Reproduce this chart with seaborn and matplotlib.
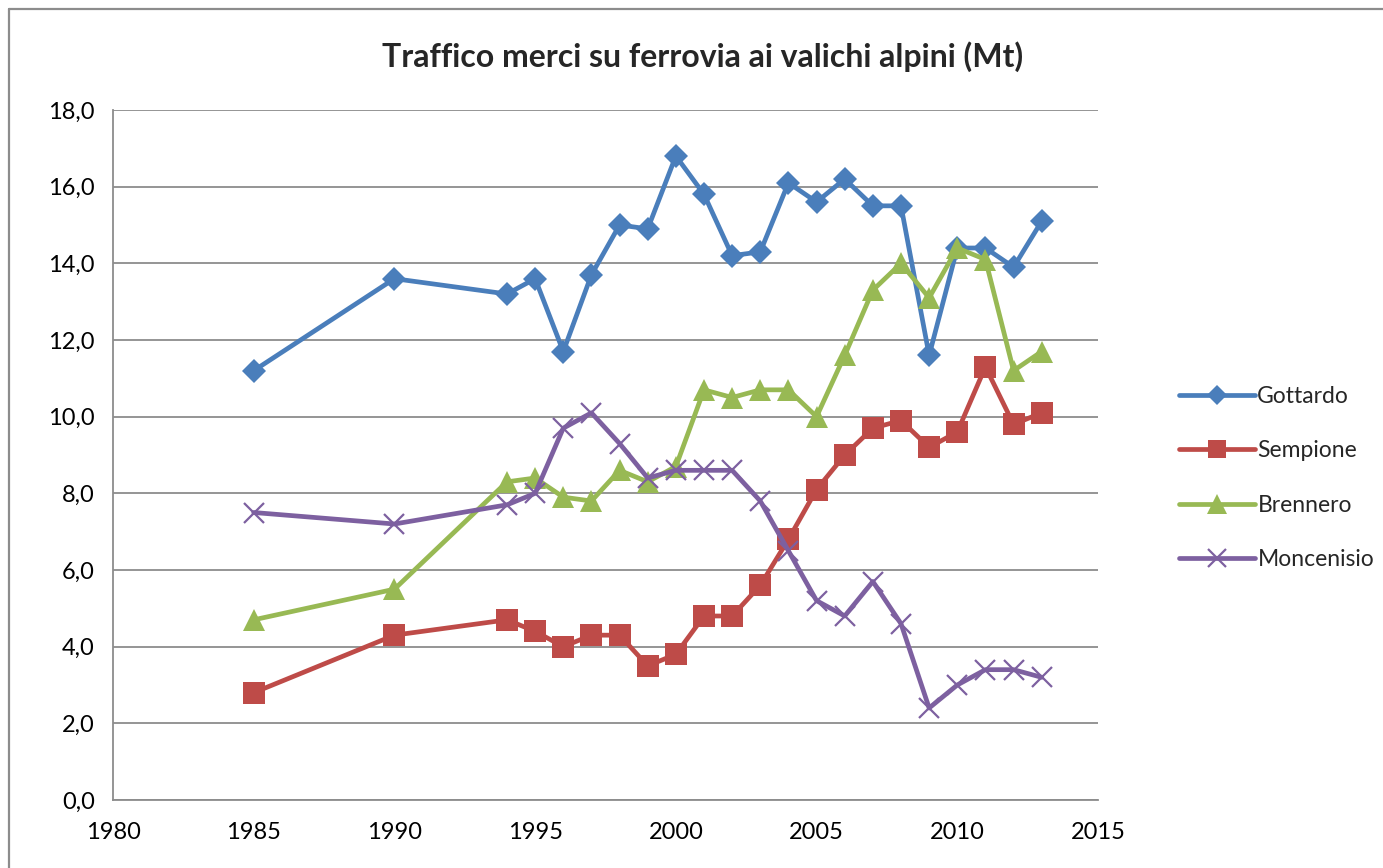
import matplotlib
matplotlib.use("Agg")
import matplotlib.pyplot as plt
import matplotlib.lines as mlines
import seaborn as sns
import pandas as pd
from matplotlib.ticker import FuncFormatter

# -----------------------------
# Data (Mt)
# -----------------------------
years = [1985, 1990, 1994, 1995, 1996, 1997, 1998, 1999, 2000, 2001, 2002,
         2003, 2004, 2005, 2006, 2007, 2008, 2009, 2010, 2011, 2012, 2013]

gottardo = [11.2, 13.6, 13.2, 13.6, 11.7, 13.7, 15.0, 14.9, 16.8, 15.8, 14.2,
            14.3, 16.1, 15.6, 16.2, 15.5, 15.5, 11.6, 14.4, 14.4, 13.9, 15.1]
sempione = [2.8, 4.3, 4.7, 4.4, 4.0, 4.3, 4.3, 3.5, 3.8, 4.8, 4.8,
            5.6, 6.8, 8.1, 9.0, 9.7, 9.9, 9.2, 9.6, 11.3, 9.8, 10.1]
brennero = [4.7, 5.5, 8.3, 8.4, 7.9, 7.8, 8.6, 8.3, 8.7, 10.7, 10.5,
            10.7, 10.7, 10.0, 11.6, 13.3, 14.0, 13.1, 14.4, 14.1, 11.2, 11.7]
moncenisio = [7.5, 7.2, 7.7, 8.0, 9.7, 10.1, 9.3, 8.4, 8.6, 8.6, 8.6,
              7.8, 6.5, 5.2, 4.8, 5.7, 4.6, 2.4, 3.0, 3.4, 3.4, 3.2]

series_names = ["Gottardo", "Sempione", "Brennero", "Moncenisio"]
title = "Traffico merci su ferrovia ai valichi alpini (Mt)"

df = pd.DataFrame({
    "anno": years * 4,
    "Mt": gottardo + sempione + brennero + moncenisio,
    "valico": [n for n in series_names for _ in years],
})

styles = {
    "Gottardo":   dict(color="#4A7EBB", marker="D", ms=12.5, mew=0),
    "Sempione":   dict(color="#BE4B48", marker="s", ms=15.5, mew=0),
    "Brennero":   dict(color="#98B954", marker="^", ms=16.5, mew=0),
    "Moncenisio": dict(color="#7D60A0", marker="x", ms=15, mew=1.6),
}

sns.set_style("white")
plt.rcParams["font.family"] = ["Lato", "DejaVu Sans"]

fig = plt.figure(figsize=(13.83, 8.68), dpi=100)
ax = fig.add_axes([113 / 1383, 68 / 868, 985 / 1383, 690 / 868])

for name in series_names:
    st = styles[name]
    sns.lineplot(data=df[df["valico"] == name], x="anno", y="Mt", ax=ax,
                 color=st["color"], linewidth=3.4, marker=st["marker"],
                 markersize=st["ms"], markeredgewidth=st["mew"],
                 markeredgecolor=st["color"], label=name, legend=False)

ax.set_xlim(1980, 2015)
ax.set_ylim(0, 18)
ax.set_xticks(range(1980, 2016, 5))
ax.set_yticks([i * 2 for i in range(10)])
ax.yaxis.set_major_formatter(FuncFormatter(lambda v, _: f"{v:.1f}".replace(".", ",")))
ax.set_xlabel("")
ax.set_ylabel("")

ax.grid(axis="y", color="#8C8C8C", linewidth=1.3)
ax.grid(axis="x", visible=False)
ax.set_axisbelow(True)
for side in ["top", "right"]:
    ax.spines[side].set_visible(False)
for side in ["left", "bottom"]:
    ax.spines[side].set_color("#8C8C8C")
    ax.spines[side].set_linewidth(1.3)
ax.tick_params(axis="both", direction="out", length=7, width=1.2, color="#8C8C8C",
               labelsize=17, labelcolor="black")
ax.tick_params(axis="x", pad=9)
ax.tick_params(axis="y", pad=6)

fig.text(0.508, 0.935, title, ha="center", va="center", fontsize=23, fontweight="bold")

handles = []
for name in series_names:
    st = styles[name]
    handles.append(mlines.Line2D([], [], color=st["color"], linewidth=3.4,
                                 marker=st["marker"], markersize=st["ms"] * 0.85,
                                 markeredgewidth=st["mew"], markeredgecolor=st["color"],
                                 label=name))
fig.legend(handles=handles, loc="center left", bbox_to_anchor=(1168 / 1383, 1 - 478 / 868),
           frameon=False, fontsize=16.5, handlelength=3.3, handletextpad=0.1,
           labelspacing=1.45, borderpad=0)

# chart frame (top and left edges visible)
fig.add_artist(mlines.Line2D([9 / 1383, 9 / 1383], [0, 1 - 9 / 868],
                             transform=fig.transFigure, color="#8C8C8C", linewidth=1.6))
fig.add_artist(mlines.Line2D([9 / 1383, 1], [1 - 9 / 868, 1 - 9 / 868],
                             transform=fig.transFigure, color="#8C8C8C", linewidth=1.6))

fig.savefig("out.png", dpi=100)
